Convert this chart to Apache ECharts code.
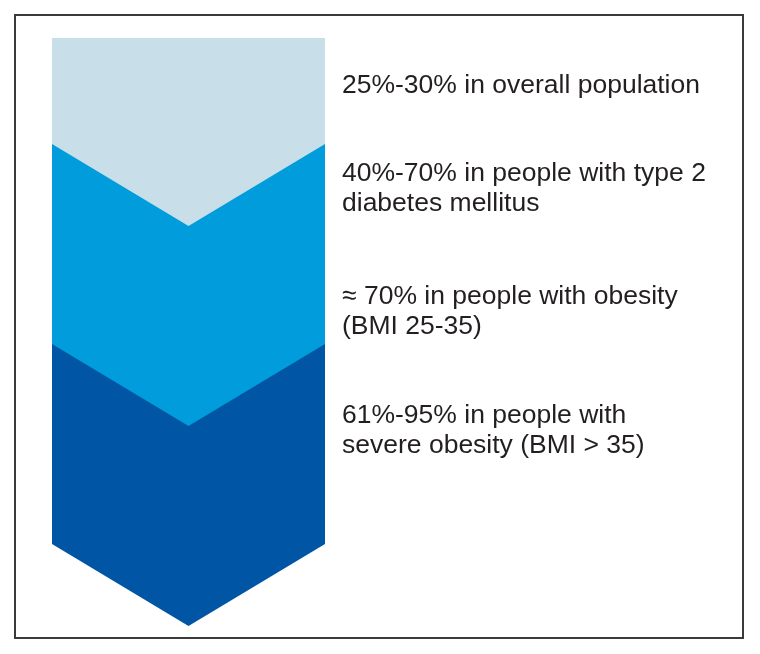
<!DOCTYPE html>
<html><head><meta charset="utf-8">
<script src="https://cdn.jsdelivr.net/npm/echarts@6/dist/echarts.min.js"></script>
<style>html,body{margin:0;padding:0;background:#fff}#c{width:760px;height:654px}</style>
</head><body><div id="c"></div>
<script>
// Chevron bands (units along the vertical chevron scale)
const bandNames = ['Overall population', 'Type 2 diabetes / obesity', 'Severe obesity'];
const bandTop = [0, 1.06, 3.06];
const bandBottom = [1.06, 3.06, 5.06];
const bandColors = ['#c8dfea', '#009cdc', '#0055a4'];
const chevronDepth = 0.82;
// Labels and the level they sit at
const labelTexts = [
  '25%-30% in overall population',
  '40%-70% in people with type 2\ndiabetes mellitus',
  '\u2248 70% in people with obesity\n(BMI 25-35)',
  '61%-95% in people with\nsevere obesity (BMI > 35)'
];
const labelLevels = [0.48, 1.51, 2.74, 3.925];

const chart = echarts.init(document.getElementById('c'), null, {renderer: 'canvas'});

// draw light band last so its chevron overlaps the next band
const bandData = bandNames.map((n, i) => ({
  name: n,
  value: [i, bandTop[i], bandBottom[i]],
  itemStyle: {color: bandColors[i]}
})).reverse();

const labelData = labelTexts.map((t, i) => ({name: t, value: [1, labelLevels[i], i]}));

chart.setOption({
  animation: false,
  backgroundColor: '#ffffff',
  graphic: [{
    type: 'rect',
    shape: {x: 15, y: 15, width: 728, height: 623},
    style: {fill: 'none', stroke: '#3a3a3a', lineWidth: 2},
    z: 100
  }],
  grid: {left: 52, right: 435, top: 38, bottom: 27},
  xAxis: {type: 'value', min: 0, max: 1, show: false},
  yAxis: {type: 'value', min: 0, max: 5.89, inverse: true, show: false},
  series: [
    {
      type: 'custom',
      data: bandData,
      encode: {x: 0, y: 1},
      renderItem: function (params, api) {
        const top = api.value(1), bottom = api.value(2);
        const idx = api.value(0);
        const pts = [
          api.coord([0, top]),
          api.coord([1, top]),
          api.coord([1, bottom]),
          api.coord([0.5, bottom + chevronDepth]),
          api.coord([0, bottom])
        ];
        return {type: 'polygon', shape: {points: pts}, style: {fill: bandColors[idx]}};
      }
    },
    {
      type: 'custom',
      data: labelData,
      encode: {x: 0, y: 1},
      renderItem: function (params, api) {
        const p = api.coord([api.value(0), api.value(1)]);
        return {
          type: 'text',
          x: p[0] + 17,
          y: p[1],
          style: {
            text: labelTexts[api.value(2)],
            font: '26.5px "Liberation Sans", Arial, sans-serif',
            fill: '#231f20',
            align: 'left',
            verticalAlign: 'middle',
            lineHeight: 30
          }
        };
      }
    }
  ]
});
</script>
</body></html>
